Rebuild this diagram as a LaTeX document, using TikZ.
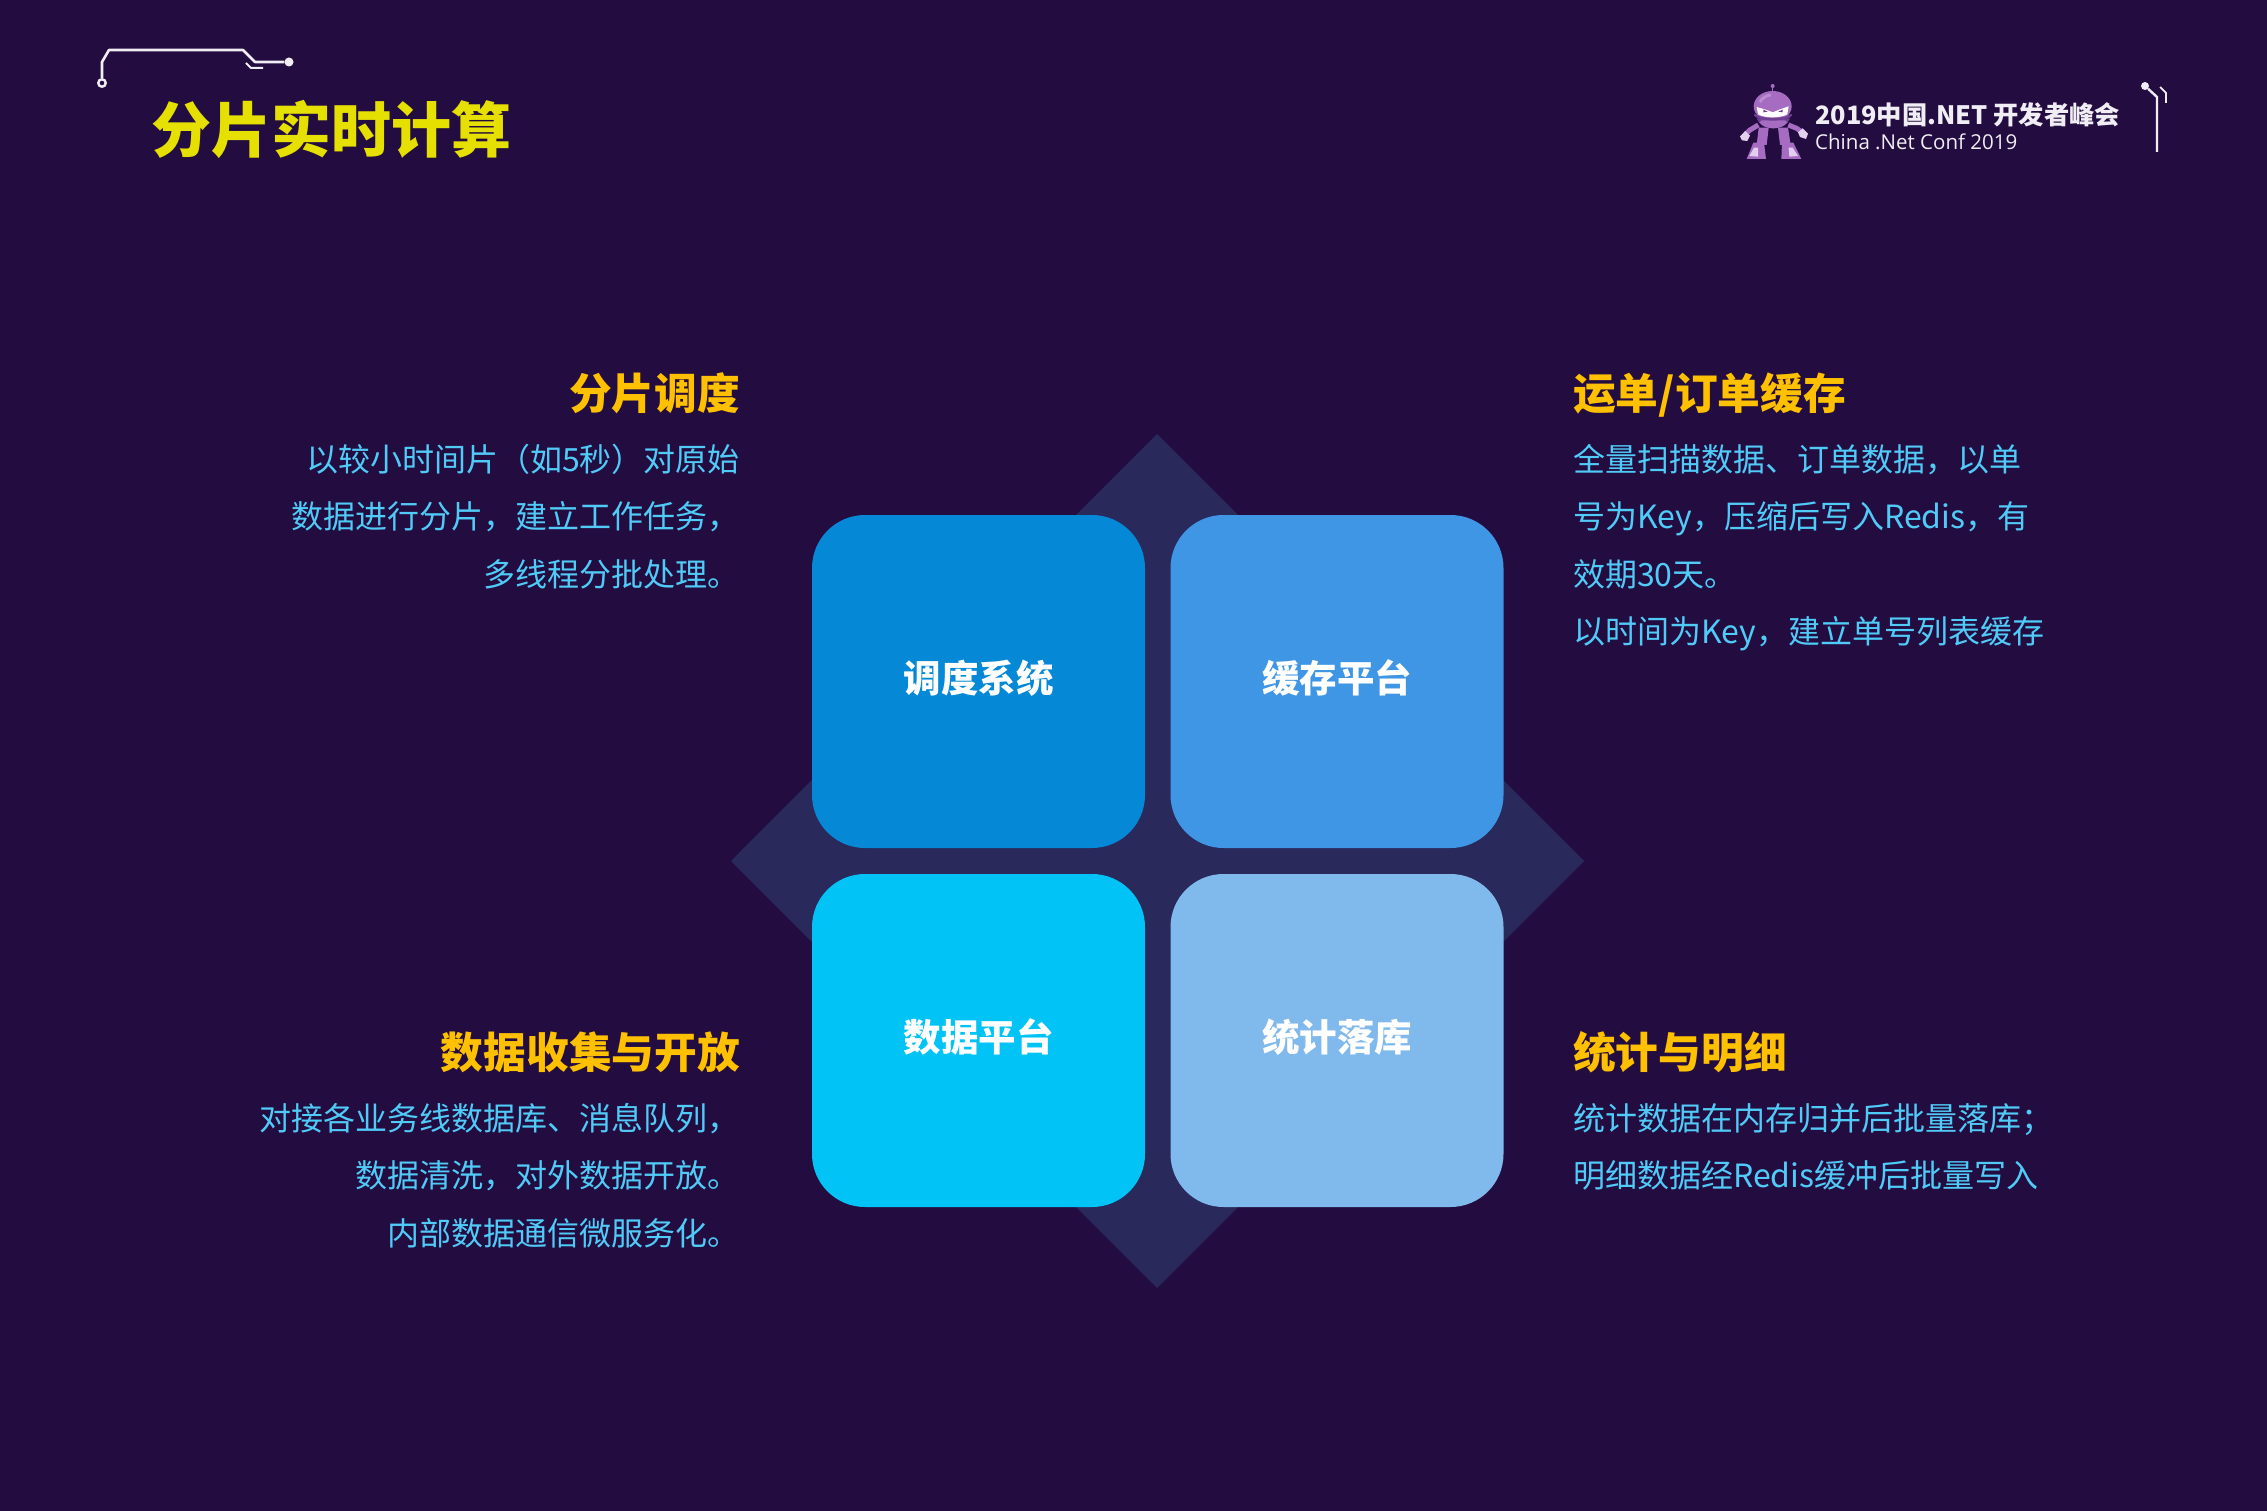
\documentclass[tikz,border=0pt]{standalone}
\usepackage{fontspec}
\setmainfont{Noto Sans CJK SC}
\newfontfamily\latinhead{Open Sans}
\definecolor{bgc}{HTML}{230C3F}
\definecolor{diam}{HTML}{29295C}
\definecolor{boxa}{HTML}{0588D6}
\definecolor{boxb}{HTML}{3E96E4}
\definecolor{boxc}{HTML}{02C3F5}
\definecolor{boxd}{HTML}{80B9EC}
\definecolor{ttl}{HTML}{E6E000}
\definecolor{hd}{HTML}{FFC000}
\definecolor{bodyc}{HTML}{50CBF8}
\definecolor{robo}{HTML}{A56CC1}
\definecolor{robod}{HTML}{6F3F92}
\definecolor{robol}{HTML}{E3CFEE}
\definecolor{wht}{HTML}{F0EEF4}
\tikzset{
  cell/.style={fill=#1,draw=none,rounded corners=53pt,minimum width=333pt,minimum height=333pt,inner sep=0pt,text=white,text height=30pt,text depth=9pt,font=\fontsize{37.5}{37.5}\selectfont\bfseries},
  head/.style={text=hd,font=\fontsize{42.7}{42.7}\selectfont\bfseries,inner sep=0pt},
  bodyl/.style={text=bodyc,font=\fontsize{32}{32}\selectfont,inner sep=0pt},
  trace/.style={draw=wht,line width=2.6pt,line join=round},
}
\begin{document}
\begin{tikzpicture}[x=1pt,y=-1pt]
\useasboundingbox (0,0) rectangle (2267,1511);
\fill[bgc] (0,0) rectangle (2267,1511);
% trace top-left
\coordinate (tA) at (102,83);
\coordinate (tB) at (289,62);
\node[circle,draw=wht,line width=2.4pt,fill=bgc,minimum size=7.5pt,inner sep=0pt] (ring) at (tA) {};
\node[circle,fill=wht,minimum size=9pt,inner sep=0pt] (dot) at (tB) {};
\draw[trace] (ring.north) -- (102,62) -- (109,50) -- (243,50) -- (255,62) -- (dot);
\draw[trace,line width=2pt] (246,63) -- (251,68) -- (263,68);
\node[anchor=base west,inner sep=0pt,text=ttl,font=\fontsize{60}{60}\selectfont\bfseries] (title) at (151,153) {分片实时计算};
% diamond
\fill[diam] (1157,434) -- (1584,861) -- (1157,1288) -- (731,861) -- cycle;
% cells
\node[cell=boxa] (c1) at (978.5,681.5) {调度系统};
\node[cell=boxb] (c2) at (1337,681.5) {缓存平台};
\node[cell=boxc] (c3) at (978.5,1040.5) {数据平台};
\node[cell=boxd] (c4) at (1337,1040.5) {统计落库};
% left texts
\node[head,anchor=base east] (h1) at (740,409) {分片调度};
\node[bodyl,anchor=base east] at (740,471) {以较小时间片（如5秒）对原始};
\node[bodyl,anchor=base east] at (740,528) {数据进行分片，建立工作任务，};
\node[bodyl,anchor=base east] at (740,586) {多线程分批处理。};
\node[head,anchor=base east] (h3) at (740,1068) {数据收集与开放};
\node[bodyl,anchor=base east] at (740,1130) {对接各业务线数据库、消息队列，};
\node[bodyl,anchor=base east] at (740,1187) {数据清洗，对外数据开放。};
\node[bodyl,anchor=base east] at (740,1245) {内部数据通信微服务化。};
% right texts
\node[head,anchor=base west] (h2) at (1573,409) {运单/订单缓存};
\node[bodyl,anchor=base west] at (1573,471) {全量扫描数据、订单数据，以单};
\node[bodyl,anchor=base west] at (1573,528) {号为Key，压缩后写入Redis，有};
\node[bodyl,anchor=base west] at (1573,586) {效期30天。};
\node[bodyl,anchor=base west] at (1573,643) {以时间为Key，建立单号列表缓存};
\node[head,anchor=base west] (h4) at (1573,1068) {统计与明细};
\node[bodyl,anchor=base west] at (1573,1130) {统计数据在内存归并后批量落库；};
\node[bodyl,anchor=base west] at (1573,1187) {明细数据经Redis缓冲后批量写入};
% header right
\node[anchor=base west,inner sep=0pt,text=wht,font=\fontsize{25.3}{25.3}\selectfont\bfseries] (conf) at (1815,125) {2019中国.NET 开发者峰会};
\node[anchor=base west,inner sep=0pt,text=wht,font=\fontsize{20.5}{20.5}\latinhead\selectfont] (confen) at (1815,150) {China .Net Conf 2019};
% antenna trace
\node[circle,fill=wht,minimum size=8pt,inner sep=0pt] (adot) at (2145,86) {};
\draw[draw=wht,line width=2.4pt] (adot) -- (2157,97) -- (2157,152);
\draw[draw=wht,line width=1.8pt] (2160,87) -- (2166,93) -- (2166,103);
% robot (3x crop coordinates)
\begin{scope}[shift={(1730,75)},x=0.3333pt,y=-0.3333pt]
  \draw[robo,line width=1.6pt] (128,35) -- (128,52);
  \fill[robo] (128,33) circle (6);
  % arms
  \draw[robo,line width=5pt] (85,150) -- (60,165) -- (46,178);
  \draw[robo,line width=5pt] (175,150) -- (200,160) -- (214,170);
  \fill[robol] (30,184) -- (46,168) -- (60,182) -- (52,198) -- (36,196) -- cycle;
  \fill[robol] (204,172) -- (218,160) -- (234,176) -- (228,192) -- (210,186) -- cycle;
  % legs
  \fill[robo] (86,158) -- (116,158) -- (110,210) -- (80,210) -- cycle;
  \fill[robo] (144,158) -- (174,158) -- (182,210) -- (150,210) -- cycle;
  % feet
  \fill[robo] (70,203) -- (102,203) -- (108,252) -- (50,252) -- cycle;
  \fill[robo] (156,203) -- (190,203) -- (214,252) -- (154,252) -- cycle;
  \fill[robol] (58,243) -- (72,218) -- (84,218) -- (84,245) -- cycle;
  \fill[robol] (176,218) -- (188,218) -- (204,243) -- (178,245) -- cycle;
  % torso
  \fill[robod] (80,130) .. controls (92,170) and (168,170) .. (180,130) -- cycle;
  \fill[robo] (88,142) .. controls (105,166) and (155,166) .. (172,142) -- (165,136) -- (95,136) -- cycle;
  % head
  \fill[robo] (128,94) ellipse (57 and 46);
  \fill[robod] (72,122) .. controls (90,142) and (168,142) .. (186,122) -- (184,116) .. controls (168,133) and (90,133) .. (74,116) -- cycle;
  % visor
  \fill[white] (80,96) .. controls (100,102) and (115,106) .. (128,112) .. controls (142,106) and (158,100) .. (176,94) -- (172,118) .. controls (150,130) and (105,130) .. (84,118) -- cycle;
  \fill[robod] (100,104) -- (113,110) -- (100,112) -- cycle;
  \fill[robod] (158,104) -- (145,110) -- (158,112) -- cycle;
  \fill[robol,opacity=.35] (86,78) .. controls (96,62) and (112,56) .. (124,56) -- (122,64) .. controls (110,66) and (100,72) .. (92,84) -- cycle;
\end{scope}
\end{tikzpicture}
\end{document}
